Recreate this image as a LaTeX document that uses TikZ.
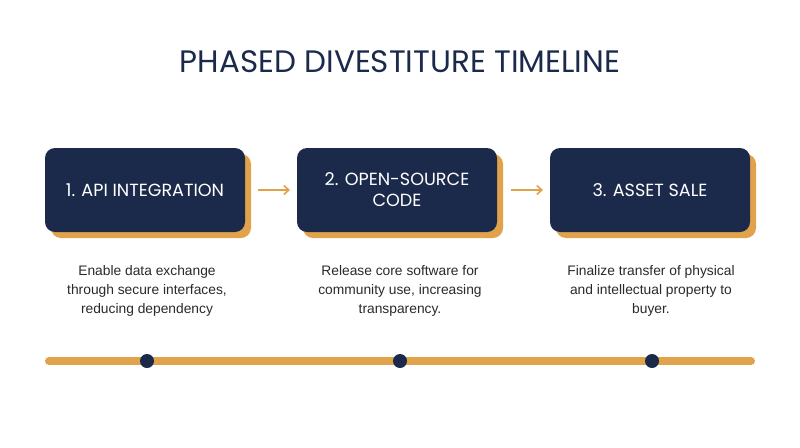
\documentclass[tikz,border=0pt]{standalone}
\usepackage{fontspec}
\setmainfont{Poppins}
\newfontfamily\bodyfont{Liberation Sans}
\usetikzlibrary{arrows.meta}
\definecolor{navy}{HTML}{1B2A4A}
\definecolor{gold}{HTML}{E0A24A}
\definecolor{txt}{HTML}{2A2A2A}
\begin{document}
\begin{tikzpicture}[x=1pt,y=-1pt,
  stepbox/.style={fill=navy,rounded corners=10pt,minimum width=200pt,minimum height=84pt,inner sep=0pt,
     text=white,font=\fontsize{17.6}{21}\selectfont,align=center},
  shadowbox/.style={fill=gold,rounded corners=10pt,minimum width=200pt,minimum height=84pt,inner sep=0pt},
  desc/.style={text=txt,font=\bodyfont\fontsize{13.8}{19}\selectfont,align=center},
  flow/.style={draw=gold,line width=1.6pt,-{Straight Barb[length=5pt,width=9pt]}},
  dot/.style={circle,fill=navy,minimum size=14pt,inner sep=0pt}]
\useasboundingbox (0,0) rectangle (800,447);
\fill[white] (0,0) rectangle (800,447);
\node[text=navy,font=\fontsize{31}{35}\selectfont] (title) at (400,62) {PHASED DIVESTITURE TIMELINE};
% shadows
\node[shadowbox] (s1) at (151,196) {};
\node[shadowbox] (s2) at (403,196) {};
\node[shadowbox] (s3) at (656,196) {};
% boxes
\node[stepbox] (b1) at (145,190) {1. API INTEGRATION};
\node[stepbox] (b2) at (397,190) {2. OPEN-SOURCE\\CODE};
\node[stepbox] (b3) at (650,190) {3. ASSET SALE};
\coordinate (a1s) at (258,190); \coordinate (a1e) at (290,190);
\coordinate (a2s) at (511,190); \coordinate (a2e) at (543,190);
\draw[flow] (a1s) -- (a1e);
\draw[flow] (a2s) -- (a2e);
% descriptions
\node[desc] (d1) at (147,291) {Enable data exchange\\through secure interfaces,\\reducing dependency};
\node[desc] (d2) at (400,291) {Release core software for\\community use, increasing\\transparency.};
\node[desc] (d3) at (651,291) {Finalize transfer of physical\\and intellectual property to\\buyer.};
% timeline
\coordinate (tl) at (49,361); \coordinate (tr) at (751,361);
\draw[gold,line width=8pt,line cap=round] (tl) -- (tr);
\node[dot] (p1) at (147,361) {};
\node[dot] (p2) at (400,361) {};
\node[dot] (p3) at (652,361) {};
\end{tikzpicture}
\end{document}
